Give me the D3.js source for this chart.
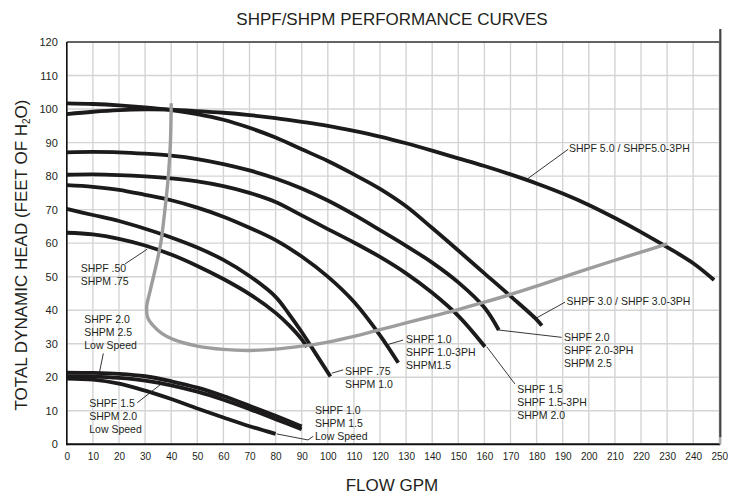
<!DOCTYPE html>
<html><head><meta charset="utf-8">
<script src="https://cdn.jsdelivr.net/npm/d3@7"></script>
<style>
body{margin:0;background:#fff}
svg{display:block}
text{font-family:"Liberation Sans",Arial,Helvetica,sans-serif;fill:#231f20}
</style>
</head><body>
<svg id="chart" width="731" height="493"></svg>
<script>
// ---------- data ----------
const xTicks = [0,10,20,30,40,50,60,70,80,90,100,110,120,130,140,150,160,170,180,190,200,210,220,230,240,250];
const yTicks = [0,10,20,30,40,50,60,70,80,90,100,110,120];

// [flow GPM, head ft]
const shpf50 = [[0,63.1],[10,62.6],[20,61.3],[30,59.3],[40,56.6],[50,53.2],[60,49.3],[70,44.8],[80,39.2],[85,35.6],[90,31.3],[92,29]];
const shpf75 = [[0,70.2],[10,68.4],[20,66.6],[30,64.3],[40,61.7],[50,58.7],[60,55],[70,50.2],[80,44],[85,39],[90,33.5],[95,27.5],[101,20.2]];
const shpf10 = [[0,77.3],[10,76.8],[20,75.9],[30,74.4],[40,72.8],[50,70.6],[60,67.9],[70,64.6],[80,60.9],[90,56],[100,50],[110,42.5],[120,32.5],[127,24.3]];
const shpf15 = [[0,80.4],[10,80.5],[20,80.3],[30,79.9],[40,79.3],[50,78.4],[60,77],[70,75],[80,72.3],[90,68.3],[100,64.2],[110,60.2],[120,55.9],[130,51],[140,45.2],[150,38.3],[160.2,29.1]];
const shpf20 = [[0,87.1],[10,87.2],[20,87.1],[30,86.7],[40,86.1],[50,85.1],[60,83.6],[70,81.7],[80,79.3],[90,76.3],[100,72.7],[110,68.5],[120,63.9],[130,59.2],[140,54.2],[150,48.3],[160,40.8],[165.5,34.1]];
const shpf30 = [[0,101.7],[10,101.5],[20,101.1],[30,100.5],[40,99.7],[50,98.5],[60,96.8],[70,94.4],[80,91.5],[90,88],[100,84.5],[110,80.5],[120,76.2],[130,71],[140,64.5],[150,57.8],[160,51],[170,44.2],[180,37.2],[182,35.4]];
const shpf50hp = [[0,98.5],[10,99.2],[20,99.7],[30,99.9],[40,99.8],[50,99.4],[60,98.9],[70,98.2],[80,97.3],[90,96.2],[100,95],[110,93.5],[120,91.8],[130,89.8],[140,87.6],[150,85.3],[160,83],[170,80.5],[180,77.8],[190,74.8],[200,71.4],[210,67.5],[220,63.3],[230,58.8],[240,54],[248,49]];
const lowSpeed20 = [[0,21.4],[10,21.3],[20,21],[30,20.3],[40,18.8],[50,16.9],[60,14.4],[70,11.5],[80,8.5],[90,5.3]];
const lowSpeed15 = [[0,20.3],[10,20.2],[20,19.8],[30,19],[40,17.6],[50,15.7],[60,13.3],[70,10.5],[80,7.5],[90,4.5]];
const lowSpeed10 = [[0,19.6],[10,19.3],[20,18.1],[30,16],[40,13.5],[50,10.7],[60,8],[70,5.4],[80,3.1]];
const limitLine = [[40,101.7],[39.7,90],[38.9,80],[37.6,70],[36,60],[34.4,54],[32,46],[30.6,41],[31,37.8],[33.2,35.3],[36.5,33],[41,31.2],[50,29.3],[60,28.3],[70,28],[80,28.4],[90,29.3],[100,30.5],[110,32.2],[120,34.2],[130,36.2],[140,38.2],[150,40.2],[160,42.4],[170,44.7],[180,47.2],[190,49.8],[200,52.4],[210,54.9],[220,57.3],[230,59.8]];

const pumpCurves = [shpf50, shpf75, shpf10, shpf15, shpf20, shpf30, shpf50hp, lowSpeed20, lowSpeed15, lowSpeed10];

const labelTexts = [
  ["SHPF 5.0 / SHPF5.0-3PH"],
  ["SHPF 3.0 / SHPF 3.0-3PH"],
  ["SHPF 2.0","SHPF 2.0-3PH","SHPM 2.5"],
  ["SHPF 1.5","SHPF 1.5-3PH","SHPM 2.0"],
  ["SHPF 1.0","SHPF 1.0-3PH","SHPM1.5"],
  ["SHPF .75","SHPM 1.0"],
  ["SHPF .50","SHPM .75"],
  ["SHPF 2.0","SHPM 2.5","Low Speed"],
  ["SHPF 1.5","SHPM 2.0","Low Speed"],
  ["SHPF 1.0","SHPM 1.5","Low Speed"]
];

// ---------- layout ----------
const svg = d3.select("#chart");
const x = d3.scaleLinear().domain([0,250]).range([66.8,719.3]);
const y = d3.scaleLinear().domain([0,120]).range([444.3,42]);

// grid
const grid = svg.append("g");
grid.selectAll("line.v").data(xTicks).join("line")
  .attr("x1",d=>x(d)).attr("x2",d=>x(d)).attr("y1",y(0)).attr("y2",y(120))
  .attr("stroke","#d4d4d4").attr("stroke-width",1.4);
grid.selectAll("line.h").data(yTicks).join("line")
  .attr("x1",x(0)).attr("x2",x(250)).attr("y1",d=>y(d)).attr("y2",d=>y(d))
  .attr("stroke","#d4d4d4").attr("stroke-width",1.4);

// axes (labels only)
const xAxis = d3.axisBottom(x).tickValues(xTicks).tickSize(0).tickPadding(9);
const gx = svg.append("g").attr("transform",`translate(0,${y(0)})`).call(xAxis);
gx.select(".domain").remove();
gx.selectAll("text").attr("font-size","10px").attr("fill","#231f20").attr("font-family","Liberation Sans, Arial, sans-serif");

const yAxis = d3.axisLeft(y).tickValues(yTicks).tickSize(0).tickPadding(9);
const gy = svg.append("g").attr("transform",`translate(${x(0)},0)`).call(yAxis);
gy.select(".domain").remove();
gy.selectAll("text").attr("font-size","11px").attr("fill","#231f20").attr("font-family","Liberation Sans, Arial, sans-serif");

// frame
svg.append("line").attr("x1",x(0)).attr("x2",x(250)).attr("y1",y(120)).attr("y2",y(120)).attr("stroke","#3a3a3a").attr("stroke-width",1.3);
svg.append("line").attr("x1",x(0)).attr("x2",x(0)).attr("y1",y(120)).attr("y2",y(0)+1).attr("stroke","#111").attr("stroke-width",1.6);
svg.append("line").attr("x1",x(0)).attr("x2",x(250)+1).attr("y1",y(0)).attr("y2",y(0)).attr("stroke","#111").attr("stroke-width",2);
svg.append("line").attr("x1",x(250)+1).attr("x2",x(250)+1).attr("y1",29).attr("y2",y(2)).attr("stroke","#444").attr("stroke-width",2.2);
svg.append("line").attr("x1",x(250)+1).attr("x2",x(250)+1).attr("y1",y(2)).attr("y2",y(0)).attr("stroke","#aaa").attr("stroke-width",2.2);

// curves
const line = d3.line().x(d=>x(d[0])).y(d=>y(d[1])).curve(d3.curveCatmullRom.alpha(0.5));
svg.append("g").selectAll("path").data(pumpCurves).join("path")
  .attr("d",line).attr("fill","none").attr("stroke","#1c1a1a").attr("stroke-width",3.8).attr("stroke-linecap","butt");
svg.append("path").datum(limitLine).attr("d",line).attr("fill","none").attr("stroke","#9d9d9f").attr("stroke-width",3.4);

// leaders [flow, head] points
const leaders = [
  [[176.2,79],[192.1,88]],
  [[180,37.7],[190.9,42.4]],
  [[165.3,34.1],[189.6,31.9]],
  [[160.9,29.1],[171.7,18]],
  [[123.2,29.8],[128.9,31.1]],
  [[101.5,21.2],[105.9,22.2]],
  [[22.3,53.8],[30.8,58.2]],
  [[14,27.1],[12.5,21.4]],
  [[27,12.4],[35.7,17.7]],
  [[80.4,3.1],[92.4,1.3],[94.4,2.4]]
];
const straight = d3.line().x(d=>x(d[0])).y(d=>y(d[1]));
svg.append("g").selectAll("path").data(leaders).join("path")
  .attr("d",straight).attr("fill","none").attr("stroke","#231f20").attr("stroke-width",0.9);

// label anchors (flow, head of first baseline)
const labelPos = [[192.4,87.2],[191.5,41.6],[190.5,30.8],[172.6,15.3],[130,30.2],[106.6,20.7],[5.3,51.4],[6.7,36.2],[8.6,11.1],[95.1,8.9]];
const lg = svg.append("g");
labelTexts.forEach((lines,i)=>{
  const t = lg.append("text").attr("x",x(labelPos[i][0])).attr("y",y(labelPos[i][1])).attr("font-size","10.5px");
  lines.forEach((s,j)=>{
    t.append("tspan").attr("x",x(labelPos[i][0])).attr("dy",j===0?0:12.8).text(s);
  });
});

// titles
svg.append("text").attr("x",392).attr("y",24.5).attr("text-anchor","middle").attr("font-size","17px").text("SHPF/SHPM PERFORMANCE CURVES");
svg.append("text").attr("x",392).attr("y",490.5).attr("text-anchor","middle").attr("font-size","17px").text("FLOW GPM");
const yt = svg.append("text").attr("transform","translate(27,255) rotate(-90)").attr("text-anchor","middle").attr("font-size","17px");
yt.append("tspan").text("TOTAL DYNAMIC HEAD (FEET OF H");
yt.append("tspan").attr("font-size","10px").attr("dy",3).text("2");
yt.append("tspan").attr("dy",-3).text("O)");
</script>
</body></html>
